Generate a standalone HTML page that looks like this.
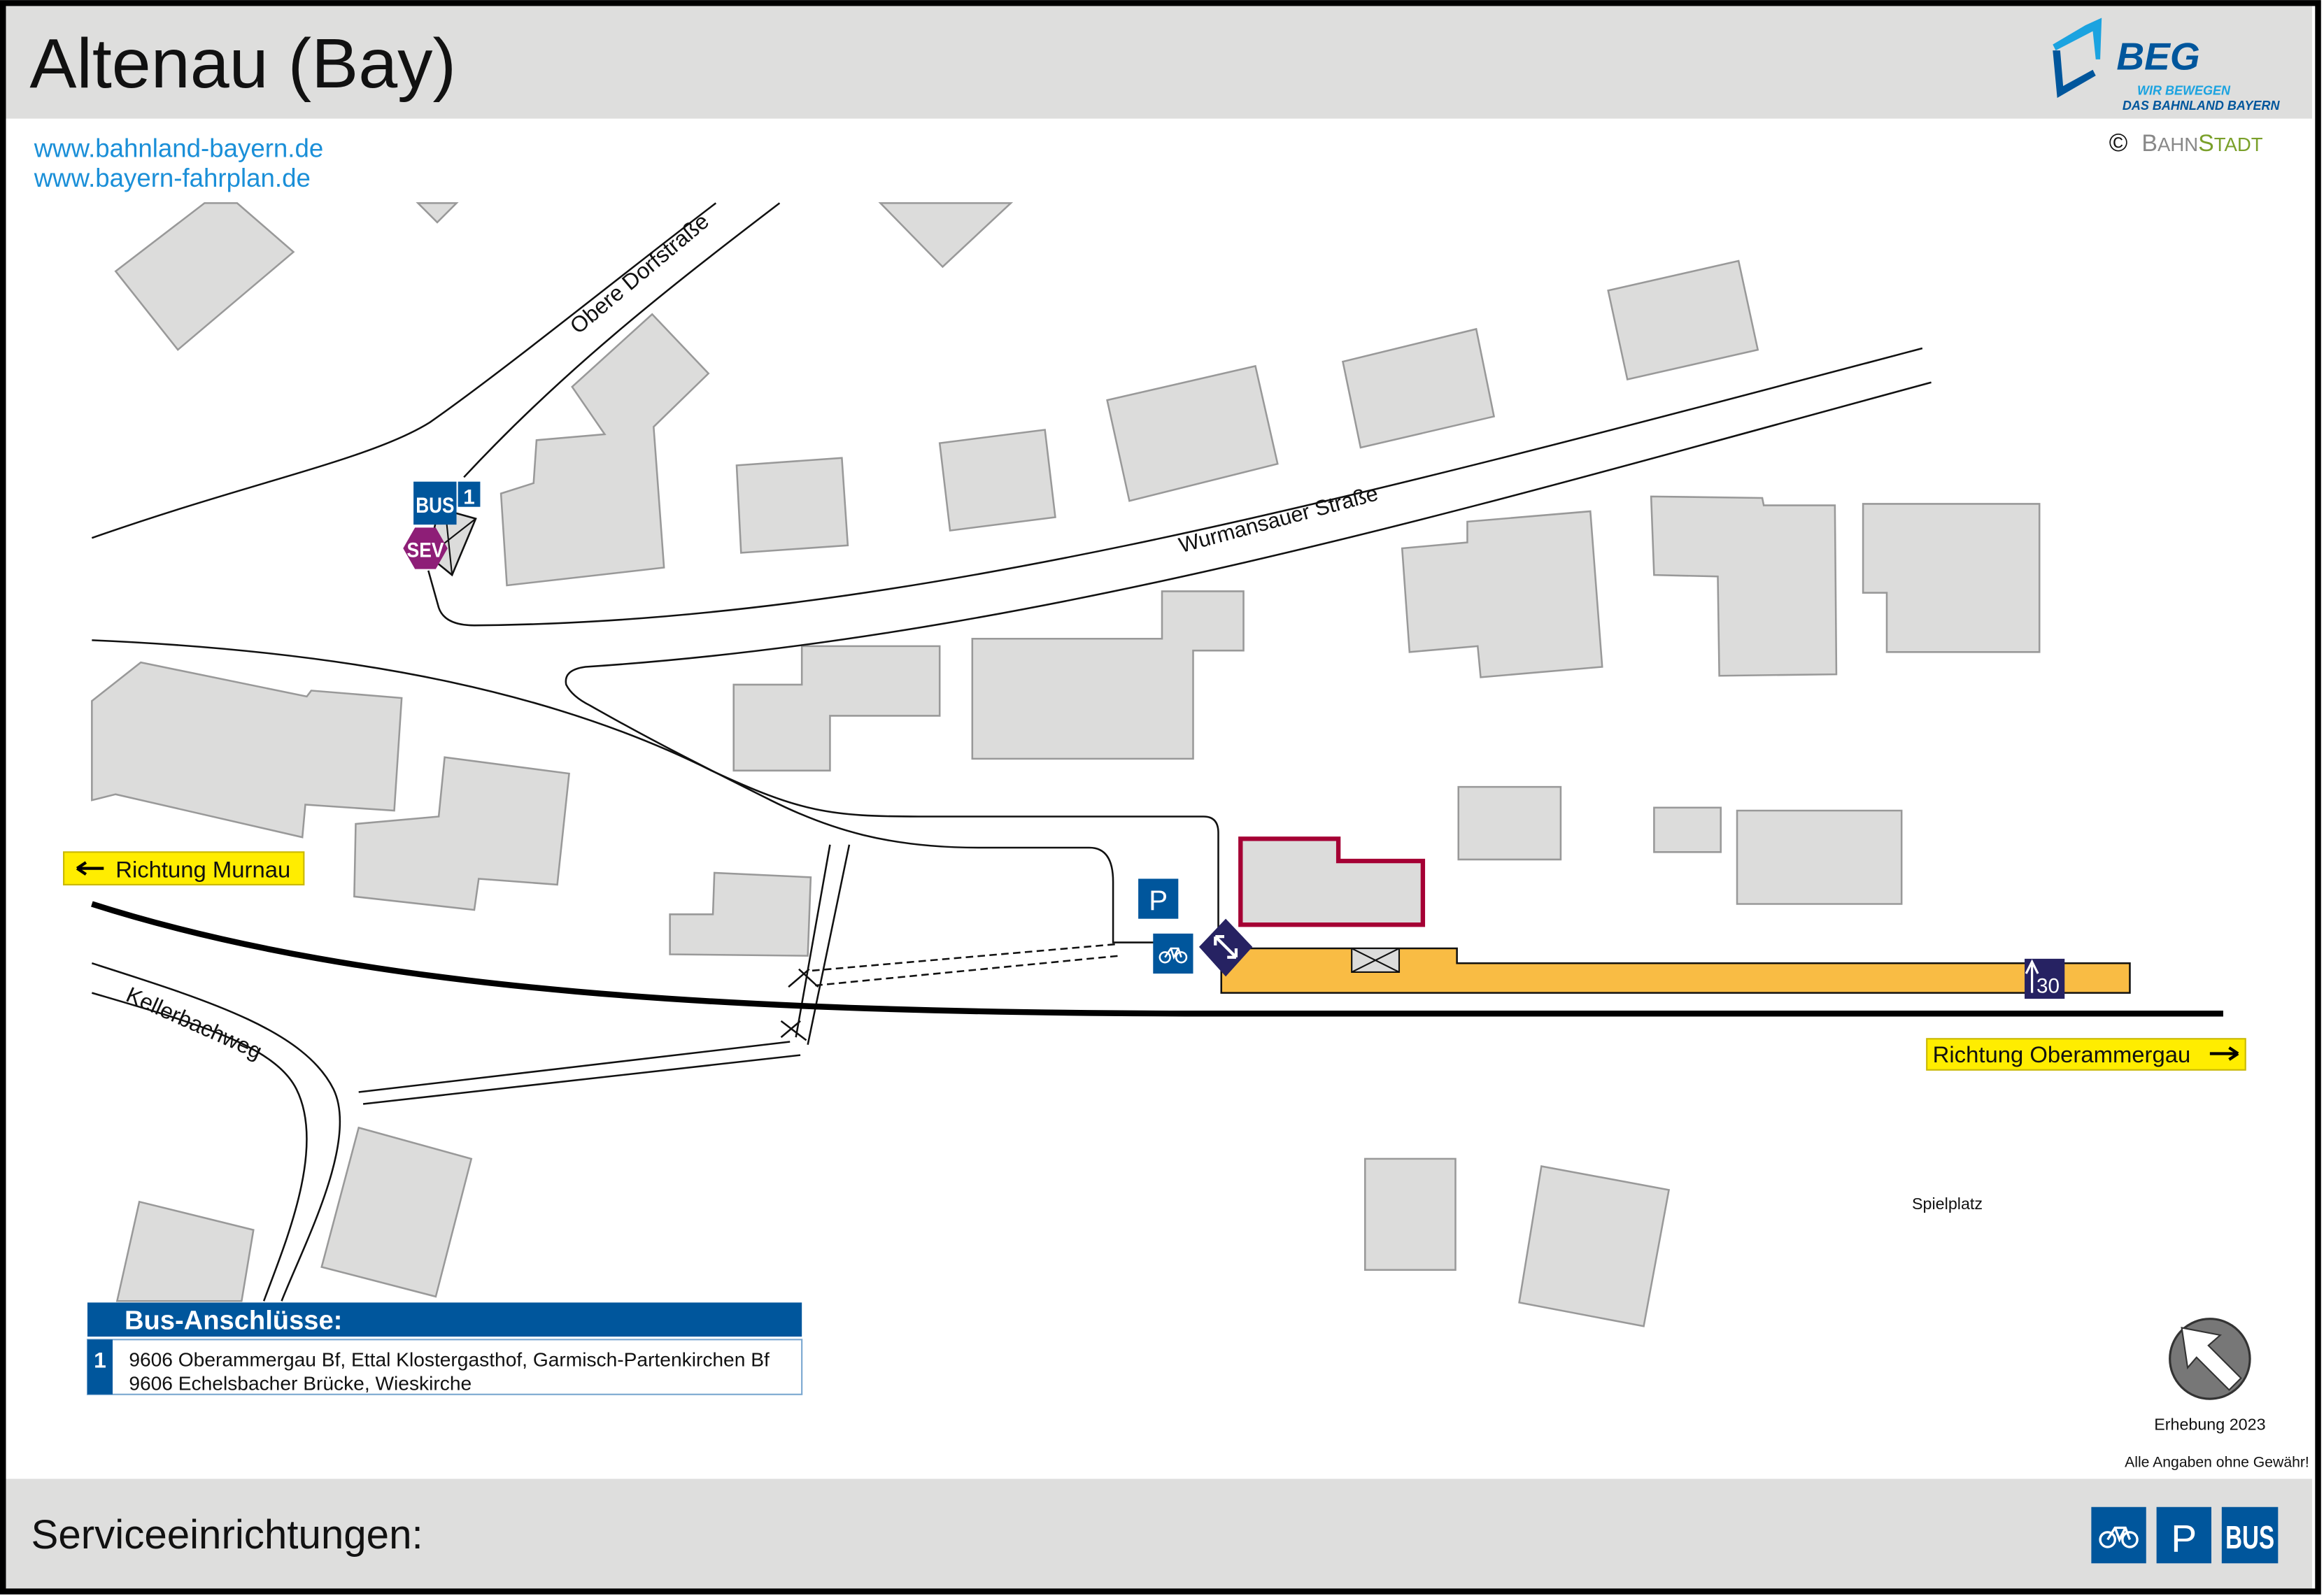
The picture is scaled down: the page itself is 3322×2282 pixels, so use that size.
<!DOCTYPE html>
<html><head><meta charset="utf-8"><style>
html,body{margin:0;padding:0;background:#fff}
svg{display:block}
text{font-family:"Liberation Sans",sans-serif}
</style></head><body>
<svg width="3322" height="2282" viewBox="0 0 1568 1077" xmlns="http://www.w3.org/2000/svg">
<rect x="0" y="0" width="1568" height="1077" fill="#fff"/>
<rect x="4" y="4" width="1556" height="76" fill="#dededd"/>
<rect x="4" y="998" width="1556" height="75" fill="#dededd"/>
<text x="20" y="59" font-size="47.5" fill="#111">Altenau (Bay)</text>
<text x="23" y="106" font-size="17.3" fill="#1a8fd8">www.bahnland-bayern.de</text>
<text x="23" y="126" font-size="17.3" fill="#1a8fd8">www.bayern-fahrplan.de</text>
<!-- BEG logo -->
<polygon points="1385,30 1407,17 1418,12 1417,40 1414,40 1412,21 1387,34" fill="#1ba3e0"/>
<polygon points="1385,34 1390,34 1392,58 1412,47 1414,51 1388,66" fill="#00569c"/>
<text x="1428" y="47" font-size="26" font-weight="bold" font-style="italic" fill="#00569c">BEG</text>
<text x="1442" y="64" font-size="8.5" font-weight="bold" font-style="italic" fill="#1ba3e0">WIR BEWEGEN</text>
<text x="1432" y="74" font-size="8.5" font-weight="bold" font-style="italic" fill="#00569c">DAS BAHNLAND BAYERN</text>
<text x="1423" y="102" font-size="17" fill="#111">©</text>
<text x="1445" y="102" font-size="16" fill="#888">B<tspan font-size="13">AHN</tspan><tspan fill="#7aa02a" font-size="16">S</tspan><tspan fill="#7aa02a" font-size="13">TADT</tspan></text>

<g fill="#dcdcdb" stroke="#999" stroke-width="1.2">
<polygon points="78,183 138,137 160,137 198,170 120,236"/>
<polygon points="282,137 308,137 295,150"/>
<polygon points="594,137 682,137 636,180"/>
<polygon points="338,333 360,326 362,297 408,293 386,261 440,212 478,252 441,288 448,383 342,395"/>
<polygon points="497,314 568,309 572,368 500,373"/>
<polygon points="634,299 705,290 712,349 641,358"/>
<polygon points="747,270 847,247 862,313 762,338"/>
<polygon points="906,244 996,222 1008,281 918,302"/>
<polygon points="1085,196 1173,176 1186,236 1098,256"/>
<polygon points="946,370 990,366 990,352 1073,345 1081,450 999,457 997,436 951,440"/>
<polygon points="1114,335 1189,336 1190,341 1238,341 1239,455 1160,456 1159,389 1116,388"/>
<polygon points="1257,340 1376,340 1376,440 1273,440 1273,400 1257,400"/>
<polygon points="656,431 784,431 784,399 839,399 839,439 805,439 805,512 656,512"/>
<polygon points="495,462 541,462 541,436 634,436 634,483 560,483 560,520 495,520"/>
<polygon points="62,473 95,447 207,470 210,466 271,471 266,547 206,543 204,565 78,536 62,540"/>
<polygon points="240,556 296,551 300,511 384,522 376,597 323,593 320,614 239,605"/>
<polygon points="452,617 481,617 482,589 547,592 545,645 452,644"/>
<polygon points="984,531 1053,531 1053,580 984,580"/>
<polygon points="1116,545 1161,545 1161,575 1116,575"/>
<polygon points="1172,547 1283,547 1283,610 1172,610"/>
<polygon points="921,782 982,782 982,857 921,857"/>
<polygon points="1040,787 1126,803 1109,895 1025,879"/>
<polygon points="242,761 318,782 294,875 217,855"/>
<polygon points="94,811 171,830 163,878 79,878"/>
</g>
<polygon points="837,566 903,566 903,581 960,581 960,624 837,624" fill="#dcdcdb" stroke="#a50034" stroke-width="3"/>

<g fill="none" stroke="#111" stroke-width="1.2">
<path d="M62,363 C170,325 250,310 290,285 C340,250 420,185 483,137"/>
<path d="M526,137 C450,195 380,250 313,322"/>
<path d="M289,385 L296,410 Q300,422 320,422 C600,420 900,340 1297,235"/>
<path d="M1303,258 C1000,340 700,430 395,450 Q380,452 382,462 Q386,470 398,476 C440,500 480,520 520,540 C560,560 600,572 660,572 L735,572 Q751,572 751,595 L751,636 L780,636"/>
<path d="M62,432 C250,440 380,470 480,520 C540,548 560,551 620,551 L812,551 Q822,551 822,562 L822,632"/>
<path d="M560,570 L537,700"/>
<path d="M573,570 L545,705"/>
<path d="M533,703 L242,737"/>
<path d="M540,712 L245,745"/>
<path d="M539,654 L552,666 M546,654 L532,666"/>
<path d="M527,689 L544,702 M540,689 L527,700"/>
<path d="M62,650 C140,675 205,695 225,735 C242,770 205,840 190,878"/>
<path d="M62,670 C130,690 185,705 200,735 C220,775 192,840 178,878"/>
<path d="M548,655 L755,637 M550,665 L755,645" stroke-dasharray="5,3"/>
</g>
<path d="M62,610 C250,670 500,683 800,684 L1500,684" fill="none" stroke="#000" stroke-width="4"/>

<polygon points="824,640 983,640 983,650 1437,650 1437,670 824,670" fill="#f9bc44" stroke="#111" stroke-width="1.2"/>
<rect x="912" y="640" width="32" height="16" fill="#dcdcdb" stroke="#111"/>
<path d="M912,640 L944,656 M944,640 L912,656" stroke="#111" stroke-width="1"/>
<rect x="1366" y="647" width="27" height="27" fill="#262262"/>
<path d="M1371,670 L1371,651 M1367,657 L1371,649 L1375,657" stroke="#fff" stroke-width="1.5" fill="none"/>
<text x="1374" y="670" font-size="14" fill="#fff">30</text>

<rect x="768" y="593" width="27" height="27" fill="#00569c"/>
<text x="781.5" y="614" font-size="19" fill="#fff" text-anchor="middle">P</text>
<rect x="778" y="630" width="27" height="27" fill="#00569c"/>
<g fill="none" stroke="#fff" stroke-width="1.2"><circle cx="786" cy="646" r="3.5"/><circle cx="797" cy="646" r="3.5"/><path d="M786,646 L790,640 L795,640 L797,646 M790,640 L792,646 L795,640"/></g>
<polygon points="827,620 845,639 827,659 809,639" fill="#262262"/>
<path d="M820,632 L834,646 M820,632 L820,638 M820,632 L826,632 M834,646 L834,640 M834,646 L828,646" stroke="#fff" stroke-width="2" fill="none"/>

<!-- bus stop -->
<polygon points="296,343 321,350 305,388 289,375" fill="#dcdcdb" stroke="#111" stroke-width="1.2"/>
<path d="M300,340 L305,388 M289,375 L321,350" stroke="#111" stroke-width="1"/>
<rect x="279" y="325" width="29" height="29" fill="#00569c"/>
<text x="293.5" y="346" font-size="15" font-weight="bold" fill="#fff" text-anchor="middle" textLength="26" lengthAdjust="spacingAndGlyphs">BUS</text>
<rect x="309" y="325" width="15" height="17" fill="#00569c"/>
<text x="316.5" y="340" font-size="14" font-weight="bold" fill="#fff" text-anchor="middle">1</text>
<polygon points="280,356 294,356 302,370 294,384 280,384 272,370" fill="#8e1e77"/>
<text x="287" y="376" font-size="14" font-weight="bold" fill="#fff" text-anchor="middle" textLength="25" lengthAdjust="spacingAndGlyphs">SEV</text>

<text font-size="15" fill="#111" transform="translate(390,226) rotate(-40)">Obere Dorfstraße</text>
<text font-size="14.5" fill="#111" transform="translate(797,373) rotate(-15)">Wurmansauer Straße</text>
<text font-size="15" fill="#111" transform="translate(84,675) rotate(24)">Kellerbachweg</text>
<text x="1290" y="816" font-size="11" fill="#111">Spielplatz</text>

<rect x="43" y="575" width="162" height="22" fill="#ffed00" stroke="#c9b800"/>
<path d="M52,586 L70,586 M52,586 L58,582 M52,586 L58,590" stroke="#000" stroke-width="2" fill="none"/>
<text x="78" y="592" font-size="15.5" fill="#111">Richtung Murnau</text>
<rect x="1300" y="701" width="215" height="21" fill="#ffed00" stroke="#c9b800"/>
<text x="1304" y="717" font-size="15.5" fill="#111">Richtung Oberammergau</text>
<path d="M1491,711 L1510,711 M1510,711 L1504,707 M1510,711 L1504,715" stroke="#000" stroke-width="2" fill="none"/>

<rect x="59" y="879" width="482" height="23" fill="#00569c"/>
<text x="84" y="897" font-size="18" font-weight="bold" fill="#fff">Bus-Anschlüsse:</text>
<rect x="59" y="904" width="482" height="37" fill="#fff" stroke="#7aa7d0" stroke-width="1"/>
<rect x="59" y="904" width="17" height="37" fill="#00569c"/>
<text x="67.5" y="923" font-size="15" font-weight="bold" fill="#fff" text-anchor="middle">1</text>
<text x="87" y="922" font-size="13.3" fill="#111">9606 Oberammergau Bf, Ettal Klostergasthof, Garmisch-Partenkirchen Bf</text>
<text x="87" y="938" font-size="13.3" fill="#111">9606 Echelsbacher Brücke, Wieskirche</text>

<circle cx="1491" cy="917" r="27" fill="#777" stroke="#333" stroke-width="1.5"/>
<polygon points="1472,896 1498,901 1490,908 1512,930 1504,938 1482,916 1476,923" fill="#fff" stroke="#333" stroke-width="1"/>
<text x="1491" y="965" font-size="11" fill="#111" text-anchor="middle">Erhebung 2023</text>
<text x="1558" y="990" font-size="10" fill="#111" text-anchor="end">Alle Angaben ohne Gewähr!</text>

<text x="21" y="1045" font-size="27.5" fill="#111">Serviceeinrichtungen:</text>
<rect x="1411" y="1017" width="37" height="38" fill="#00569c"/>
<g fill="none" stroke="#fff" stroke-width="1.6"><circle cx="1422" cy="1039" r="5"/><circle cx="1437" cy="1039" r="5"/><path d="M1422,1039 L1427,1031 L1434,1031 L1437,1039 M1427,1031 L1430,1039 L1434,1031"/></g>
<rect x="1455" y="1017" width="37" height="38" fill="#00569c"/>
<text x="1473.5" y="1047" font-size="26" fill="#fff" text-anchor="middle">P</text>
<rect x="1499" y="1017" width="38" height="38" fill="#00569c"/>
<text x="1518" y="1045" font-size="22" font-weight="bold" fill="#fff" text-anchor="middle" textLength="33" lengthAdjust="spacingAndGlyphs">BUS</text>

<rect x="2" y="2" width="1562" height="1072" fill="none" stroke="#000" stroke-width="4"/>
</svg>
</body></html>
